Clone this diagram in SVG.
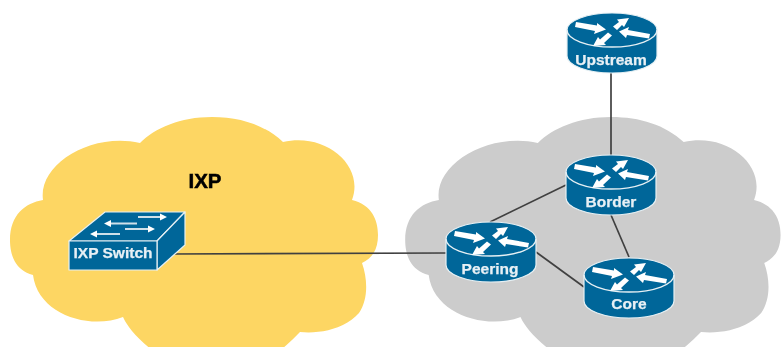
<svg xmlns="http://www.w3.org/2000/svg" width="781" height="347" viewBox="0 0 781 347">
<style>
.lbl{font-family:"Liberation Sans",Arial,sans-serif;font-weight:700;font-size:15.5px;fill:#e8f0f5;stroke:#e8f0f5;stroke-width:0.25;text-anchor:middle}
.ttl{font-family:"Liberation Sans",Arial,sans-serif;font-weight:700;font-size:20.5px;fill:#000;stroke:#000;stroke-width:0.5;text-anchor:middle}
.conn{stroke:#404040;stroke-width:1.7;fill:none}
.blue{fill:#006699;stroke:#e6f0f4;stroke-width:1.2;stroke-linejoin:round}
.ar{fill:#fff}
.sw{stroke:#cfe0e9;stroke-width:1.8;fill:none}
</style>
<defs>
<filter id="soft" x="-5%" y="-5%" width="110%" height="110%"><feGaussianBlur stdDeviation="0.7"/></filter>
<path id="cloud" d="M140,143C155,128 180,117 212,117C240,117 265,125 283,142C325,132 365,165 352,200C372,205 378,220 378,235C378,250 372,258 362,263C368,280 368,300 359,313C345,329 320,334 300,332C290,342 282,350 272,356L160,356C140,342 128,328 123,317C90,330 38,315 33,275C15,270 10,255 10,240C10,215 25,203 43,200C38,165 90,132 140,143Z"/>
<g id="router">
<path class="blue" d="M0,17A45,17 0 0 1 90,17V43A45,17 0 0 1 0,43Z"/>
<path d="M0,17A45,17 0 0 0 90,17" fill="none" stroke="#e6f0f4" stroke-width="1.3"/>
<path class="ar" d="M9,9L30,12.500L30,10L39,16.500L27,21L28,18L8,14Z"/>
<path class="ar" d="M62,5L57,14L55,12L50,17L46,13.500L52,9L50,6.500Z"/>
<path class="ar" d="M52,18.500L62,14L61,17L83,21L82,25.500L60,22L59,25Z"/>
<path class="ar" d="M26,33L31,24L33,26.500L41,19.500L45,22.500L37,30L39,32Z"/>
</g>
</defs>
<g filter="url(#soft)">
<g id="cloud-ixp"><use href="#cloud" fill="#fdd663"/></g>
<g id="cloud-as"><use href="#cloud" fill="#cccccc" transform="translate(395 0) scale(1.02 1)"/></g>
<g id="connectors">
<line class="conn" x1="170" y1="254" x2="446" y2="253"/>
<line class="conn" x1="611" y1="70" x2="611" y2="156"/>
<line class="conn" x1="566" y1="185" x2="490" y2="222"/>
<line class="conn" x1="536" y1="252" x2="584" y2="287"/>
<line class="conn" x1="611" y1="215" x2="629" y2="257"/>
</g>
<g id="ixp-label"><text class="ttl" x="205" y="188">IXP</text></g>
<g id="ixp-switch">
<path class="blue" d="M69,241L105,212H185L157,241Z"/>
<path class="blue" d="M157,241L185,212V245L157,270Z"/>
<rect class="blue" x="69" y="241" width="88" height="29"/>
<path class="sw" d="M138,217H162M108,223.500H137M125,229H150M96,234H120"/>
<path class="ar" d="M167,217L160,213.500V220.500ZM104,223.500L111,220V227ZM155,229L148,225.500V232.500ZM90,234L97,230.500V237.500Z"/>
<text class="lbl" x="113" y="258">IXP Switch</text>
</g>
<g id="router-upstream"><use href="#router" x="567" y="13"/><text class="lbl" x="611" y="65">Upstream</text></g>
<g id="router-border"><use href="#router" x="566" y="155"/><text class="lbl" x="611" y="207">Border</text></g>
<g id="router-peering"><use href="#router" x="446" y="222"/><text class="lbl" x="490" y="274">Peering</text></g>
<g id="router-core"><use href="#router" x="584" y="258"/><text class="lbl" x="629" y="309">Core</text></g>
</g>
</svg>
